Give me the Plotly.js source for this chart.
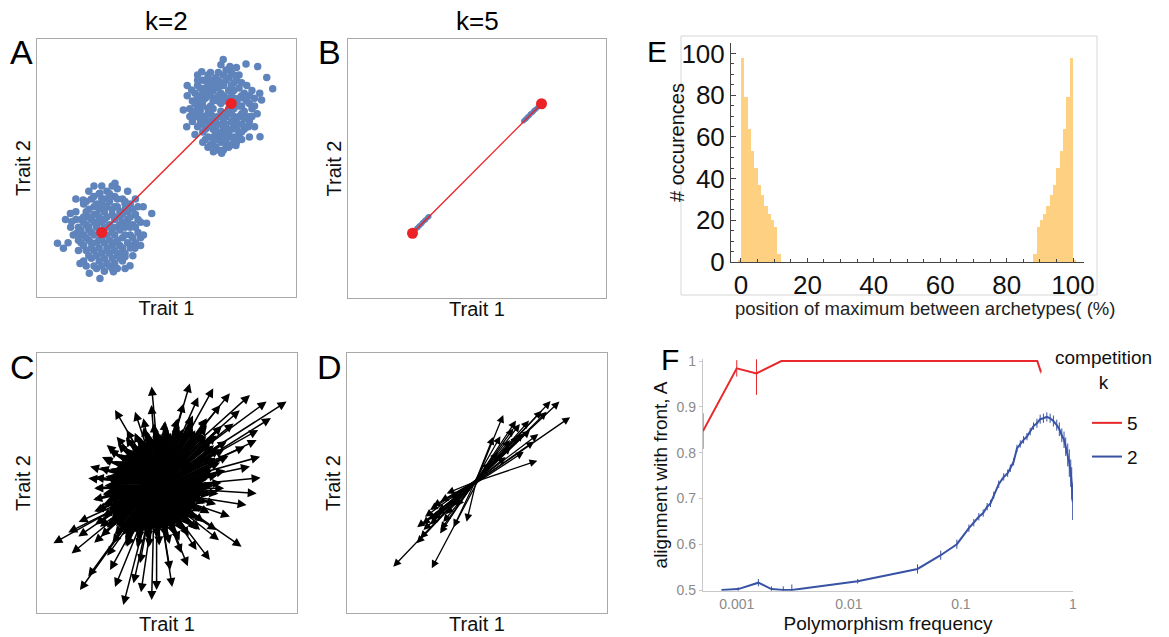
<!DOCTYPE html>
<html>
<head>
<meta charset="utf-8">
<script src="https://cdn.plot.ly/plotly-3.0.1.min.js"></script>
<style>
  html, body { margin: 0; padding: 0; background: #fff; }
  #fig { width: 1169px; height: 637px; }
</style>
</head>
<body>
<div id="fig"></div>
<script>
// ---------- Panel A: two clusters of trait values (k=2) ----------
const archetypeX = [25, 75];
const archetypeY = [25, 75];

const clusterHigh = [
  [62,82],[64,79],[66,83],[68,80],[70,84],[72,82],[74,85],[76,83],[78,81],[80,79],
  [63,75],[65,77],[67,74],[69,77],[71,79],[73,76],[75,78],[77,76],[79,74],[81,76],
  [61,70],[63,72],[65,69],[67,71],[69,68],[71,72],[73,70],[75,72],[77,69],[79,71],[81,70],
  [62,66],[64,64],[66,67],[68,65],[70,63],[72,66],[74,64],[76,66],[78,63],[80,65],
  [65,61],[67,59],[69,62],[71,60],[73,61],[75,59],[77,60],[60,76],[59,73],[83,73],
  [82,68],[84,77],[70,87],[73,88],[66,86],[78,86],[61,79],[60,68],[64,60],[82,62],
  [72,57],[76,62],[68,62],[63,69],[67,78],[71,75],[75,75],[79,78],[74,80],[70,81],
  [66,80],[62,73],[68,73],[72,69],[76,70],[80,72],[65,65],[69,66],[73,67],[77,67],
  [71,64],[75,68],[67,68],[63,78],[81,82],[83,80],[77,89],[71,90],[64,84],[58,78],
  [59,70],[61,63],[66,58],[70,57],[74,58],[79,61],[84,66],[85,71],[86,79],[69,85],
  [75,87],[62,86],[58,82],[64,74],[70,76],[74,73],[78,74],[66,71],[72,78],[76,80],
  [68,83],[73,64],[79,67],[65,81],[61,75],
  [63,81],[65,84],[67,82],[69,82],[71,83],[73,84],[75,82],[77,84],[79,83],[62,77],
  [64,76],[66,78],[68,76],[70,78],[72,77],[74,77],[76,77],[78,77],[80,77],[82,75],
  [62,71],[64,70],[66,73],[68,70],[70,70],[72,71],[74,71],[76,73],[78,70],[80,69],
  [63,67],[65,67],[67,66],[69,64],[71,67],[73,65],[75,65],[77,65],[79,64],[81,66],
  [66,62],[68,60],[70,61],[72,62],[74,62],[76,60],[78,61],[69,58],[73,59],[60,72],
  [82,78],[83,70],[67,87],[72,86],[76,86],[62,84],[84,74],
  [71.9,92.1],[80.7,90.3],[85.2,89.3],[63.6,87.3],[88.7,85.1],[91.0,80.7],[59.7,80.2],
  [86.1,62.1],[81.6,66.0],[76.8,58.7],[56.5,72.5],[57.8,66.0],[68.1,56.3],[71.3,55.7],
  [86.7,76.4],[81.6,69.9],[74.5,89.3],[66.8,84.1]
];

const clusterLow = [
  [18,36],[21,38],[24,40],[27,41],[30,39],[33,38],[19,33],[22,35],[25,36],[28,37],
  [31,35],[34,34],[36,36],[17,30],[20,31],[23,32],[26,33],[29,32],[32,31],[35,30],
  [38,32],[16,27],[19,28],[22,29],[25,29],[28,28],[31,27],[34,27],[37,28],[18,24],
  [21,25],[24,25],[27,24],[30,24],[33,23],[36,24],[39,25],[17,21],[20,22],[23,21],
  [26,21],[29,20],[32,20],[35,21],[38,21],[19,18],[22,18],[25,17],[28,17],[31,16],
  [34,17],[21,15],[24,14],[27,13],[30,13],[33,14],[23,11],[26,10],[29,11],[15,33],
  [14,24],[16,18],[40,29],[41,35],[38,38],[35,41],[29,43],[25,43],[20,41],[15,38],
  [13,27],[18,14],[37,16],[40,20],[24,22],[27,27],[30,30],[26,30],[23,27],[29,25],
  [32,26],[20,26],[35,33],[21,19],[32,17],[27,35],[24,34],[33,29],[18,31],[36,19],
  [28,39],[22,43],[31,42],[19,12],[34,11],[12,21],[11,30],[26,38],[30,35],[22,32],
  [34,37],[17,24],[27,19],[30,21],[24,29],[36,27],[39,35],
  [19,37],[22,39],[25,38],[28,40],[31,38],[34,36],[20,34],[23,36],[26,35],[29,34],
  [32,33],[35,35],[18,29],[21,30],[24,31],[27,31],[30,31],[33,32],[36,31],[17,26],
  [20,27],[23,28],[26,27],[29,27],[32,28],[35,28],[38,27],[19,23],[22,24],[25,23],
  [28,22],[31,22],[34,24],[37,23],[18,20],[21,21],[24,19],[27,18],[30,18],[33,19],
  [36,20],[20,16],[23,16],[26,15],[29,15],[32,15],[25,12],[28,12],[31,11],[16,22],
  [39,30],[37,34],[22,12],[15,30],[40,23],
  [7.9,20.8],[10.2,18.9],[13.4,29.2],[16.6,13.0],[20.2,9.2],[24.3,7.2],[29.5,9.8],
  [35.9,12.1],[37.8,18.9],[42.3,28.6],[44.3,32.4],[30.1,44.1],[24.3,40.2],[17.8,37.6],
  [12.9,32.4],[41.1,24.0],[34.0,15.6],[15.3,24.7]
];

// ---------- Panel B: population collapsed onto the front (k=5) ----------
const frontHigh = [
  [68,68.3],[68.6,68.9],[69.2,69.4],[69.8,70.1],[70.3,70.5],[70.9,71.2],[71.5,71.6],
  [72,72.3],[72.6,72.8],[73.2,73.3],[73.7,74],[69.5,69.9],[70.6,71],[71.8,72],
  [68.9,69.1],[72.3,72.6]
];
const frontLow = [
  [26,26.2],[26.6,26.9],[27.2,27.3],[27.8,28],[28.4,28.5],[29,29.2],[29.6,29.8],
  [30.2,30.3],[30.8,31],[31.4,31.5],[27.5,27.8],[28.7,29],[29.9,30.1],[26.9,27],[31,31.3]
];

// ---------- Panel C: selection gradients, k=2 (tail x, tail y, head x, head y) ----------
// long gradients reaching out of the population
const gradientsC = [
  [47,55,44.1,87.1],[50,58,58.8,88.3],[55,55,96.0,81.3],[54,56,88.3,81.3],[52,57,81.9,83.8],
  [50,55,74.2,84.5],[51,56,67.8,86.4],[44,54,30.0,78.1],[45,55,37.7,77.4],[42,52,26.8,64.6],
  [43,53,30.6,67.8],[40,50,19.7,51.8],[41,51,20.4,56.3],[42,48,25.5,46.0],[54,53,85.1,70.4],
  [53,51,85.8,60.1],[52,50,81.9,56.3],[53,48,84.5,46.0],[52,46,80.6,41.5],[52,44,78.7,25.5],
  [51,45,74.2,37.1],[50,42,66.5,20.4],[49,43,61.4,24.2],[48,42,55.6,23.0],[47,42,51.2,16.5],
  [46,41,46.0,8.8],[45,42,44.1,5.0],[43,41,33.2,3.1],[44,42,37.1,11.4],[42,42,28.1,16.5],
  [41,43,16.5,8.8],[40,42,19.7,14.0],[39,44,13.3,22.9],[39,45,6.3,26.8],[40,46,15.9,29.4],
  [41,45,24.2,33.2],[41,47,23.0,39.6],[51,55,65.3,74.9],[52,54,75.6,72.9],[54,52,84.5,66.5],
  [49,56,56.4,80.6],[47,54,50.5,70.4],[45,55,40.9,74.9],[44,53,34.5,70.4],[50,44,69.1,31.9],
  [49,45,62.7,31.9],[44,43,39.6,19.1],[43,44,34.5,25.5],[51,55,70.5,80.0],[52,55,78.0,78.0],
  [50,56,62.0,83.0],[55,53,90.0,75.0],[53,52,80.0,64.0],[52,52,72.0,63.0],[40,46,16.0,35.0],
  [40,45,12.0,31.0],[42,43,27.0,22.0],[41,44,22.0,27.0],[43,42,30.0,10.0],[47,42,52.0,10.0],
  [45,42,40.0,8.0],[48,43,58.0,18.0],[44,52,37.0,62.0],[42,52,25.0,60.0],[54,49,86.0,52.0],
  [52,48,72.0,48.0],[50,55,60.0,76.0],[46,55,44.0,80.0],[43,45,33.0,30.0],[51,43,70.0,28.0]
];
// short gradients overlapping inside the population
const gradientsCCore = [
  [44,48,68,49],[44,47,69.6,53.2],[43,46,70.4,57.9],[44,46,70.2,63],[43,45,69,68.3],
  [44,45,65.3,72],[45,46,60,73.2],[45,45,54.6,72.5],[46,45,50,71.7],[46,46,46,71],
  [47,46,42.4,69.7],[48,46,39.2,67.8],[48,47,36.5,65.5],[49,47,33.8,63.6],[49,48,31.4,61.2],
  [49,48,29.5,58.5],[50,48,28.1,55.5],[49,49,26.3,52.5],[49,49,26,49],[49,50,25.3,45.4],
  [49,51,25.3,41.5],[49,51,25.2,37],[48,52,26.8,32.9],[48,52,29.9,29.8],[47,53,34,28.2],
  [47,52,38.5,28.3],[46,52,42.4,28.3],[46,52,46,29],[45,52,49.5,29.3],[45,52,52.8,30.2],
  [44,51,56,31.7],[44,51,58.9,33.7],[43,51,61.3,36.1],[43,50,63.3,39],[43,50,64.8,42.2],
  [43,49,66.7,45.4],[45,48,63.9,50.6],[45,47,67.3,54.7],[44,47,68.7,59.6],[45,46,68.1,64.5],
  [45,46,65.1,68.1],[46,46,60.9,70.3],[46,46,56.1,70.8],[46,47,51.4,69.3],[47,47,47.7,68.9],
  [47,47,44.4,66.9],[48,47,41.6,65.4],[48,48,38.8,64.4],[48,48,36.8,62.1],[48,48,34,61],
  [49,49,32.9,58.2],[48,49,30.6,56.2],[48,49,29.6,53.4],[48,50,28.1,50.6],[48,50,28.1,47.4],
  [48,50,27.6,44.1],[48,51,27.9,40.5],[47,51,28.8,37],[47,51,30.4,33.4],[47,51,34,31.8],
  [46,51,37.5,30.9],[46,51,41.3,31.6],[46,51,44.5,32.1],[46,51,47.5,32.1],[45,51,50.4,32.6],
  [45,51,53.2,33.6],[45,50,55.8,35.1],[44,50,58,37],[44,50,59.9,39.2],[44,49,61.4,41.8],
  [44,49,63.4,44.3],[44,49,64.9,47.3],
  [43,48,71,50.1],[42,47,72.4,54.8],[43,46,73.7,60.5],[42,45,73,66.2],[43,44,71.1,72],
  [44,44,65.5,74.4],[45,45,59.9,75.6],[45,44,54.1,74.8],[46,45,49.3,73.8],[46,45,45,73],
  [47,45,41,71.5],[48,45,37.6,69.3],[49,46,34.2,67.6],[49,47,31.1,65.2],[50,47,27.8,63],
  [50,48,25.6,59.6],[50,48,24.1,55.9],[50,49,22.2,52.1],[50,49,22,48],[50,50,21.6,43.6],
  [50,51,22,39],[49,52,22.4,34],[49,53,24.6,29.4],[48,53,29,26.8],[48,53,34,25.9],
  [47,53,38.5,25.2],[46,53,42.9,25.2],[46,53,47,26],[45,53,51,26.5],[44,53,54.8,27.8],
  [44,52,58.4,29.6],[43,52,61.5,32],[43,51,64.2,35],[42,51,66.4,38.4],[42,50,68.9,41.8],
  [42,49,69.8,45.9],
  [45,49,65.8,51.6],[45,48,67,55.6],[44,47,67.3,60.1],[45,47,66.6,64.8],[45,46,64.2,68.9],
  [46,47,60,70.9],[46,46,54.8,70.2],[47,46,50.5,69.5],[47,47,46.9,69],[48,47,43.5,67.8],
  [48,47,40.6,66.2],[48,48,38.2,64.1],[48,48,35.7,62.5],[49,48,33.5,60.5],[49,49,31.7,58.1],
  [49,49,30.3,55.5],[49,49,28.4,52.9],[49,50,28,49.8],[49,50,27.2,46.5],[48,51,26.9,43],
  [48,51,27.4,39.3],[48,52,28.5,35.6],[47,52,31.1,32.8],[47,52,34.7,31.3],[47,52,38.7,31.4],
  [46,52,42.1,31.4],[46,51,45.3,32],[45,51,48.2,32.1],[45,51,51.1,32.8],[45,51,53.8,33.9],
  [44,51,56.3,35.5],[44,50,58.5,37.5],[44,50,60.3,39.9],[44,50,61.7,42.5],[44,49,63.6,45.1],
  [44,49,65,48.2]
];

// ---------- Panel D: selection gradients, k=5 ----------
const gradientsD = [
  [48,49.5,81.7,81.3],[48.5,49.5,85.8,75.3],[48,49,78.3,81.5],[48.5,50,74.9,77.8],
  [49,49,60.1,76.2],[48.5,49.5,66.5,72.7],[48,49.5,73.6,68.8],[48,50,73.2,58.6],
  [49,50,67.8,69.1],[49,49.5,56.3,67.8],[48.5,49.5,62.7,66.5],[48.5,49.5,70.4,70.4],
  [48,49,76.8,77.4],[49,50,64,71],[49.5,50,58,62],[49,50,61,60],[49,49.5,68,62],
  [49,50,55,58],[49.5,50.5,70,74],[49,50,63,64],[48.5,49.5,66,68],[49,50,72,66],
  [48.5,49.5,59,68],[49,50,65,74],
  [50,51.5,17.8,17.8],[51,52,32.6,17.2],[50,52,46.0,35.1],[50.5,51,38.3,46.0],
  [50,51.5,31.3,35.8],[50.5,51.5,31.9,39.6],[50,51.5,28.1,28.7],[50,52,35.8,30.6],
  [50,51.5,34.5,37.7],[50.5,51,39.6,40.9],[50,51.5,29.4,31.9],[50,51.5,26.8,26.8],
  [50,51,33,41],[50,51,36,43],[50,51.5,30,37],[50.5,51.5,38,38],[50,51.5,42,41],
  [50,51,27,33],[50,51,37,35],[50,52,41,33],[50,51.5,32,34],[50.5,51,35,39],
  [50,51.5,29,34],[50.5,51.5,40,44],[50,51,33,36],[50,51.5,36,32]
];

// ---------- Panel E: histogram of the maximum's position ----------
const posBins = [-0.5,0.5,1.5,2.5,3.5,4.5,5.5,6.5,7.5,8.5,9.5,10.5,11.5,
                 88.5,89.5,90.5,91.5,92.5,93.5,94.5,95.5,96.5,97.5,98.5,99.5,100.5];
const posCounts = [1,98,79,64,53,45,37,32,27,23,20,17,4,
                   4,17,20,23,27,32,37,45,53,64,79,98,1];

// ---------- Panel F: alignment with the front vs polymorphism frequency ----------
const k5Freq  = [0.0005,0.001,0.0015,0.0025,0.2,0.22,0.24,0.26,0.28,0.3,0.32,0.34,0.36,0.38,0.4,0.42,0.44,0.46,0.48,0.516];
const k5Align = [0.847,0.984,0.973,1,1,1,1,1,1,1,1,1,1,1,1,1,1,1,1,0.977];
const k5Err   = [0.039,0.018,0.047,0,0.002,0.002,0.002,0.002,0.002,0.002,0.002,0.002,0.002,0.002,0.002,0.002,0.002,0.002,0.002,0.004];

const k2Freq  = [0.00073,0.00103,0.00156,0.00204,0.0026,0.0031,0.012,0.041,0.066,0.092,
                 0.1178,0.1303,0.1445,0.158,0.1715,0.1835,0.1963,0.2173,0.2409,0.2612,
                 0.276,0.2951,0.3162,0.3386,0.3622,0.3882,0.415,0.4446,0.4764,0.5093,
                 0.5446,0.5842,0.6252,0.6683,0.7164,0.7551,0.7943,0.8318,0.861,0.8974,
                 0.9268,0.9549,0.9739,0.9931];
const k2Align = [0.5,0.502,0.516,0.502,0.5,0.5,0.519,0.546,0.576,0.600,
                 0.635,0.647,0.660,0.668,0.682,0.689,0.707,0.731,0.747,0.755,
                 0.766,0.780,0.809,0.819,0.828,0.835,0.846,0.858,0.864,0.873,
                 0.875,0.878,0.875,0.869,0.860,0.851,0.838,0.828,0.813,0.795,
                 0.777,0.755,0.733,0.693];
const k2Err   = [0,0.004,0.008,0.006,0.008,0.012,0.005,0.01,0.01,0.01,
                 0.008,0.008,0.008,0.008,0.008,0.008,0.008,0.008,0.008,0.008,
                 0.008,0.008,0.008,0.008,0.008,0.008,0.008,0.008,0.01,0.01,
                 0.01,0.01,0.01,0.012,0.012,0.015,0.015,0.018,0.02,0.025,
                 0.03,0.03,0.035,0.04];

// ---------- colours and page geometry ----------
const POP_BLUE = '#5f83bb';
const ARCH_RED = '#ec2227';
const K5_RED = '#e8282b';
const K2_BLUE = '#3953a4';
const FONT = 'Liberation Sans, Arial, Helvetica, sans-serif';
const W = 1169, H = 637;
const px = v => v / W;
const py = v => 1 - v / H;

const xs = pts => pts.map(p => p[0]);
const ys = pts => pts.map(p => p[1]);

const traces = [];

// A: population and archetype segment
traces.push({type:'scatter', mode:'markers', x: xs(clusterLow).concat(xs(clusterHigh)),
  y: ys(clusterLow).concat(ys(clusterHigh)), xaxis:'x', yaxis:'y',
  marker:{size:7.5, color:POP_BLUE}, showlegend:false, hoverinfo:'skip'});
traces.push({type:'scatter', mode:'lines+markers', x: archetypeX, y: archetypeY, xaxis:'x', yaxis:'y',
  line:{color:ARCH_RED, width:1.4}, marker:{size:11, color:ARCH_RED}, showlegend:false, hoverinfo:'skip'});

// B: population on the front
traces.push({type:'scatter', mode:'markers', x: xs(frontLow).concat(xs(frontHigh)),
  y: ys(frontLow).concat(ys(frontHigh)), xaxis:'x2', yaxis:'y2',
  marker:{size:5, color:POP_BLUE}, showlegend:false, hoverinfo:'skip'});
traces.push({type:'scatter', mode:'lines+markers', x: archetypeX, y: archetypeY, xaxis:'x2', yaxis:'y2',
  line:{color:ARCH_RED, width:1.4}, marker:{size:11, color:ARCH_RED}, showlegend:false, hoverinfo:'skip'});

// C and D: empty anchors so the framed axes are drawn
traces.push({type:'scatter', mode:'markers', x:[], y:[], xaxis:'x3', yaxis:'y3', showlegend:false});
traces.push({type:'scatter', mode:'markers', x:[], y:[], xaxis:'x4', yaxis:'y4', showlegend:false});

// E: histogram bars
traces.push({type:'bar', x: posBins, y: posCounts, width: 1, xaxis:'x5', yaxis:'y5',
  marker:{color:'#fdd082', line:{width:0}}, showlegend:false, hoverinfo:'skip'});

// F: alignment curves with error bars
traces.push({type:'scatter', mode:'lines', name:'5', legendgroup:'k5', x: k5Freq, y: k5Align,
  xaxis:'x6', yaxis:'y6', line:{color:K5_RED, width:2},
  error_y:{type:'data', array:k5Err, visible:true, color:K5_RED, thickness:1, width:0}});
traces.push({type:'scatter', mode:'lines', name:'2', legendgroup:'k2', x: k2Freq, y: k2Align,
  xaxis:'x6', yaxis:'y6', line:{color:K2_BLUE, width:2},
  error_y:{type:'data', array:k2Err, visible:true, color:K2_BLUE, thickness:1, width:0}});

// arrow annotations for the gradient panels
function arrows(rows, xr, yr, w, s) {
  return rows.map(r => ({
    xref:xr, yref:yr, axref:xr, ayref:yr,
    ax:r[0], ay:r[1], x:r[2], y:r[3],
    text:'', showarrow:true, arrowhead:2, arrowsize:s, arrowwidth:w,
    arrowcolor:'#000', standoff:0, startstandoff:0
  }));
}

function frameAxes(xDom, yDom, anchorX, anchorY) {
  const common = {range:[0,100], showline:true, mirror:true, linecolor:'#a9a9a9', linewidth:1,
    showticklabels:false, ticks:'', showgrid:false, zeroline:false, automargin:false, fixedrange:true};
  return [
    Object.assign({}, common, {domain:xDom, anchor:anchorY,
      title:{text:'Trait 1', font:{size:20, color:'#111'}, standoff:3}}),
    Object.assign({}, common, {domain:yDom, anchor:anchorX,
      title:{text:'Trait 2', font:{size:20, color:'#111'}, standoff:0}})
  ];
}

const [xA, yA] = frameAxes([px(37), px(296)], [py(297), py(39)], 'x', 'y');
const [xB, yB] = frameAxes([px(348), px(606)], [py(298), py(39)], 'x2', 'y2');
const [xC, yC] = frameAxes([px(37), px(297)], [py(613), py(353)], 'x3', 'y3');
const [xD, yD] = frameAxes([px(347), px(607)], [py(613), py(353)], 'x4', 'y4');

const label = (t, x, y, size, extra) => Object.assign({
  text:t, x:px(x), y:py(y), xref:'paper', yref:'paper', showarrow:false,
  font:{size:size, color:'#000', family:FONT}, xanchor:'center', yanchor:'middle'}, extra || {});

const annotations = [
  label('A', 21, 52, 34), label('B', 329, 52, 34), label('C', 22, 367, 34), label('D', 330, 367, 34),
  label('E', 657, 52, 30), label('F', 670, 359, 30),
  label('k=2', 166, 21, 26), label('k=5', 477, 21, 26),
  label('# occurences', 677, 143, 20, {textangle:-90, font:{size:20, color:'#111', family:FONT}}),
  label('position of maximum between archetypes( (%)', 925, 308, 18.5, {font:{size:18.5, color:'#222', family:FONT}}),
  label('competition<br>k', 1103, 370, 19, {align:'center', font:{size:19, color:'#111', family:FONT}})
].concat(
  arrows(gradientsCCore, 'x3', 'y3', 2.8, 0.65),
  arrows(gradientsC, 'x3', 'y3', 1.5, 1.2),
  arrows(gradientsD, 'x4', 'y4', 1.3, 1.2)
);

const layout = {
  width: W, height: H,
  margin: {l:0, r:0, t:0, b:0},
  paper_bgcolor:'#fff', plot_bgcolor:'rgba(0,0,0,0)',
  font: {family: FONT, color:'#000'},
  showlegend: true,
  xaxis: xA, yaxis: yA, xaxis2: xB, yaxis2: yB,
  xaxis3: xC, yaxis3: yC, xaxis4: xD, yaxis4: yD,
  xaxis5: {domain:[px(731), px(1084)], anchor:'y5', range:[-3, 103.3],
    showline:true, linecolor:'#444', linewidth:1, ticks:'inside', ticklen:4, tickcolor:'#444',
    tick0:0, dtick:20, minor:{dtick:5, ticks:'inside', ticklen:3, tickcolor:'#444'},
    tickfont:{size:26, color:'#111'}, showgrid:false, zeroline:false, automargin:false, fixedrange:true},
  yaxis5: {domain:[py(262), py(43)], anchor:'x5', range:[0, 105],
    showline:true, linecolor:'#444', linewidth:1, ticks:'inside', ticklen:5, tickcolor:'#444',
    tick0:0, dtick:20, minor:{dtick:5, ticks:'inside', ticklen:3, tickcolor:'#444'},
    tickfont:{size:26, color:'#111'}, showgrid:false, zeroline:false, automargin:false, fixedrange:true},
  xaxis6: {domain:[px(703), px(1073)], anchor:'y6', type:'log', range:[Math.log10(0.0005), 0],
    tickvals:[0.001,0.01,0.1,1], ticktext:['0.001','0.01','0.1','1'],
    tickfont:{size:14, color:'#8a8a8a'}, showline:true, linecolor:'#c8c8c8', linewidth:1.2, ticks:'',
    showgrid:false, zeroline:false, automargin:false, fixedrange:true,
    title:{text:'Polymorphism frequency', font:{size:19, color:'#111'}, standoff:6}},
  yaxis6: {domain:[py(590.7), py(359.2)], anchor:'x6', range:[0.4985, 1.004],
    tickvals:[0.5,0.6,0.7,0.8,0.9,1], ticktext:['0.5','0.6','0.7','0.8','0.9','1'],
    tickfont:{size:14, color:'#8a8a8a'}, showline:true, linecolor:'#c8c8c8', linewidth:1.2,
    ticks:'outside', ticklen:3, tickcolor:'#c8c8c8',
    showgrid:false, zeroline:false, automargin:false, fixedrange:true,
    title:{text:'alignment with front, A', font:{size:19, color:'#111'}, standoff:3}},
  legend: {x: px(1049), y: py(404), xanchor:'left', yanchor:'top', bgcolor:'rgba(0,0,0,0)',
    font:{size:19, color:'#111'}, indentation: 38, tracegroupgap: 6},
  shapes: [{type:'rect', xref:'paper', yref:'paper', x0:px(681), x1:px(1097), y0:py(295), y1:py(36),
    line:{color:'#d6d6d6', width:1}, layer:'below'}],
  annotations: annotations,
  bargap: 0
};

Plotly.newPlot('fig', traces, layout, {staticPlot:true, displayModeBar:false});
</script>
</body>
</html>
